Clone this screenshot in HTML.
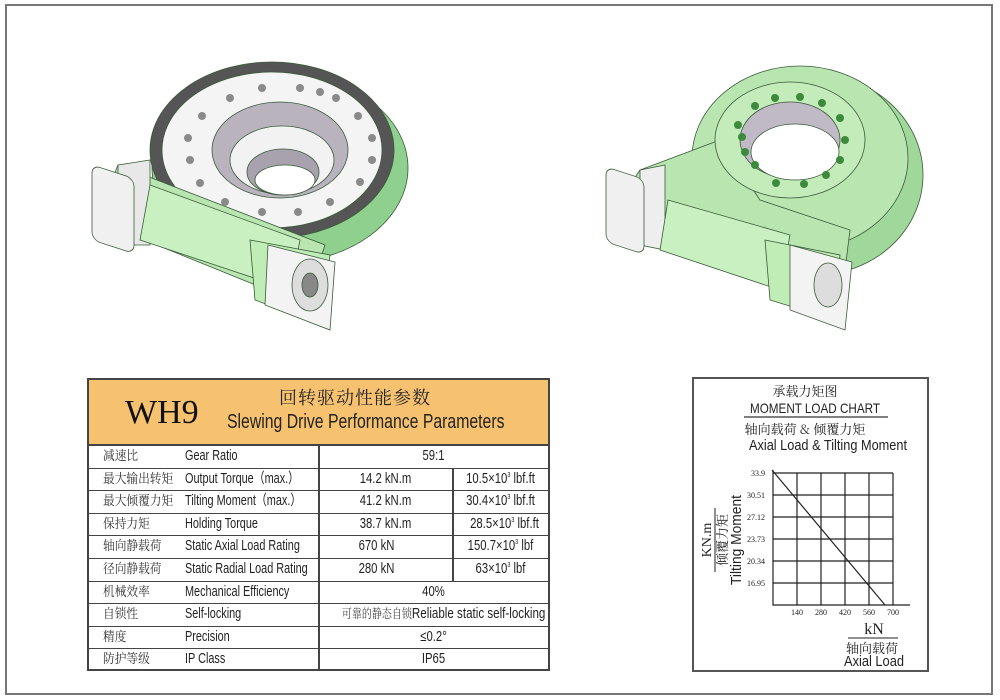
<!DOCTYPE html>
<html><head><meta charset="utf-8"><style>
*{margin:0;padding:0;box-sizing:border-box}
body{width:1000px;height:700px;background:#fff;position:relative;overflow:hidden;font-family:"Liberation Sans","Noto Sans CJK SC",sans-serif;color:#222}
.frame{position:absolute;left:5px;top:4px;width:988px;height:691px;border:2px solid #777}
.t{position:absolute;left:87px;top:378px;width:463px;height:293px;border:2px solid #444}
.hd{position:absolute;left:0;top:0;width:459px;height:66px;background:#f6c270;border-bottom:2px solid #444}
.row{position:absolute;left:0;width:459px;height:22.6px;border-bottom:1.5px solid #444;font-size:14.5px;line-height:21px}
.row>span{position:absolute;top:0;white-space:nowrap}
.row>span.cn{left:14px;top:-3px;font-family:"Noto Serif CJK SC","Noto Sans CJK SC",serif;font-size:13px;line-height:24px;color:#333;transform:scaleX(.9);transform-origin:left}
.en{left:96px;transform:scaleX(.75);transform-origin:left}
.vl{position:absolute;top:66px;bottom:0;width:1.5px;background:#444}
sup{font-size:7px;vertical-align:6px;line-height:0}
.c{position:absolute;text-align:center;white-space:nowrap;transform:scaleX(.78);transform-origin:center}
</style></head><body>
<div class="frame"></div>

<svg width="1000" height="370" style="position:absolute;left:0;top:0">
<g stroke="#3a5a3a" stroke-width="0.8">
<ellipse cx="280" cy="168" rx="128" ry="95" fill="#8fd08f"/>
<ellipse cx="272" cy="150" rx="122" ry="88" fill="#555"/>
<ellipse cx="272" cy="150" rx="110" ry="78" fill="#f4f4f4"/>
<ellipse cx="280" cy="150" rx="68" ry="48" fill="#b9b3be"/>
<ellipse cx="282" cy="160" rx="52" ry="34" fill="#f2f2f2"/>
<ellipse cx="283" cy="172" rx="36" ry="23" fill="#a8a2ae"/>
<ellipse cx="285" cy="180" rx="30" ry="15" fill="#fff"/>
<polygon points="118,165 325,245 305,305 95,220" fill="#b9e6b0"/>
<polygon points="118,165 150,160 150,245 118,245" fill="#e8e8e8"/>
<rect x="92" y="170" width="42" height="75" rx="8" fill="#f0f0f0" transform="skewY(18) translate(0,-35)"/>
<polygon points="150,185 300,240 290,290 140,240" fill="#c8f0c0"/>
<polygon points="250,240 330,255 322,325 255,300" fill="#c0ecb6"/>
<polygon points="268,245 335,262 330,330 265,305" fill="#f3f3f3"/>
<ellipse cx="310" cy="285" rx="18" ry="26" fill="#ddd"/>
<ellipse cx="310" cy="285" rx="8" ry="12" fill="#888"/>
</g>
<g fill="#8a8a8a">
<circle cx="262" cy="88" r="4"/><circle cx="300" cy="88" r="4"/><circle cx="320" cy="92" r="4"/><circle cx="336" cy="98" r="4"/>
<circle cx="230" cy="98" r="4"/><circle cx="202" cy="116" r="4"/><circle cx="188" cy="138" r="4"/><circle cx="190" cy="160" r="4"/>
<circle cx="200" cy="183" r="4"/><circle cx="225" cy="202" r="4"/><circle cx="262" cy="212" r="4"/><circle cx="298" cy="212" r="4"/>
<circle cx="330" cy="202" r="4"/><circle cx="360" cy="182" r="4"/><circle cx="372" cy="160" r="4"/><circle cx="372" cy="138" r="4"/><circle cx="358" cy="116" r="4"/>
</g>
<g stroke="#3a5a3a" stroke-width="0.8">
<ellipse cx="815" cy="175" rx="108" ry="100" fill="#9fd89a"/>
<ellipse cx="800" cy="158" rx="108" ry="92" fill="#b9e6b0"/>
<polygon points="640,170 720,140 760,200 850,230 845,270 610,215" fill="#b9e6b0"/>
<ellipse cx="790" cy="140" rx="75" ry="58" fill="#c4ecbb"/>
<ellipse cx="790" cy="140" rx="50" ry="38" fill="#c0b9c6"/>
<ellipse cx="795" cy="152" rx="44" ry="28" fill="#fff"/>
<polygon points="640,170 665,165 665,250 640,245" fill="#eee"/>
<rect x="606" y="170" width="38" height="75" rx="8" fill="#f0f0f0" transform="skewY(18) translate(0,-200)"/>
<polygon points="668,200 790,235 780,290 660,250" fill="#c8f0c0"/>
<polygon points="765,240 840,255 835,320 770,300" fill="#c0ecb6"/>
<polygon points="790,245 852,262 845,330 790,310" fill="#f3f3f3"/>
<ellipse cx="828" cy="285" rx="14" ry="22" fill="#ddd"/>
</g>
<g fill="#3d8a3d">
<circle cx="738" cy="125" r="4"/><circle cx="742" cy="137" r="4"/><circle cx="745" cy="152" r="4"/><circle cx="755" cy="165" r="4"/>
<circle cx="776" cy="183" r="4"/><circle cx="804" cy="184" r="4"/><circle cx="826" cy="175" r="4"/><circle cx="840" cy="160" r="4"/>
<circle cx="845" cy="140" r="4"/><circle cx="840" cy="118" r="4"/><circle cx="822" cy="103" r="4"/><circle cx="800" cy="97" r="4"/><circle cx="775" cy="98" r="4"/><circle cx="755" cy="106" r="4"/>
</g>
</svg>

<div class="t">
<div class="hd">
<div style="position:absolute;left:36px;top:14px;font-family:'Liberation Serif',serif;font-size:34px;color:#111">WH9</div>
<div style="position:absolute;left:190px;top:4px;font-family:'Noto Serif CJK SC',serif;font-size:18px;color:#222;letter-spacing:1px">回转驱动性能参数</div>
<div style="position:absolute;left:138px;top:31px;font-size:20px;color:#222;white-space:nowrap;transform:scaleX(.79);transform-origin:left">Slewing Drive Performance Parameters</div>
</div>
<div class="vl" style="left:229px"></div>
<div class="vl" style="left:363px;top:89px;bottom:87px"></div>
<div class="row" style="top:66px"><span class="cn">减速比</span><span class="en">Gear Ratio</span><span class="c" style="left:230px;width:229px">59:1</span></div>
<div class="row" style="top:88.6px"><span class="cn">最大输出转矩</span><span class="en">Output Torque（max.）</span><span class="c" style="left:230px;width:133px">14.2 kN.m</span><span class="c" style="left:364px;width:95px">10.5×10<sup>3</sup> lbf.ft</span></div>
<div class="row" style="top:111.2px"><span class="cn">最大倾覆力矩</span><span class="en">Tilting Moment（max.）</span><span class="c" style="left:230px;width:133px">41.2 kN.m</span><span class="c" style="left:364px;width:95px">30.4×10<sup>3</sup> lbf.ft</span></div>
<div class="row" style="top:133.8px"><span class="cn">保持力矩</span><span class="en">Holding Torque</span><span class="c" style="left:230px;width:133px">38.7 kN.m</span><span class="c" style="left:368px;width:95px">28.5×10<sup>3</sup> lbf.ft</span></div>
<div class="row" style="top:156.4px"><span class="cn">轴向静载荷</span><span class="en">Static Axial Load Rating</span><span class="c" style="left:230px;width:115px">670 kN</span><span class="c" style="left:364px;width:95px">150.7×10<sup>3</sup> lbf</span></div>
<div class="row" style="top:179px"><span class="cn">径向静载荷</span><span class="en">Static Radial Load Rating</span><span class="c" style="left:230px;width:115px">280 kN</span><span class="c" style="left:364px;width:95px">63×10<sup>3</sup> lbf</span></div>
<div class="row" style="top:201.6px"><span class="cn">机械效率</span><span class="en">Mechanical Efficiency</span><span class="c" style="left:230px;width:229px">40%</span></div>
<div class="row" style="top:224.2px"><span class="cn">自锁性</span><span class="en">Self-locking</span><span class="c" style="left:230px;width:229px;transform:scaleX(.8)"><span style="font-family:'Noto Serif CJK SC',serif;font-size:12.5px;line-height:14px;color:#444">可靠的静态自锁</span>Reliable static self-locking</span></div>
<div class="row" style="top:246.8px"><span class="cn">精度</span><span class="en">Precision</span><span class="c" style="left:230px;width:229px">≤0.2°</span></div>
<div class="row" style="top:269.4px;border-bottom:none"><span class="cn">防护等级</span><span class="en">IP Class</span><span class="c" style="left:230px;width:229px">IP65</span></div>
</div>

<div style="position:absolute;left:692px;top:377px;width:237px;height:295px;border:2px solid #555"></div>
<svg width="1000" height="700" style="position:absolute;left:0;top:0" font-family="Liberation Sans, sans-serif" fill="#222">
<text x="805" y="396" font-size="13" text-anchor="middle" font-family="Noto Serif CJK SC, serif">承载力矩图</text>
<text x="815" y="413" font-size="14" text-anchor="middle" textLength="130" lengthAdjust="spacingAndGlyphs">MOMENT LOAD CHART</text>
<line x1="744" y1="417" x2="888" y2="417" stroke="#333" stroke-width="1.2"/>
<text x="805" y="434" font-size="13" text-anchor="middle" font-family="Noto Serif CJK SC, serif">轴向载荷 &amp; 倾覆力矩</text>
<text x="828" y="450" font-size="15" text-anchor="middle" textLength="158" lengthAdjust="spacingAndGlyphs">Axial Load &amp; Tilting Moment</text>
<g stroke="#222" stroke-width="1.2" fill="none">
<path d="M773 473H893M773 495H893M773 517H893M773 539H893M773 561H893M773 583H893"/>
<path d="M797 473V605M821 473V605M845 473V605M869 473V605M893 473V605"/>
<path d="M773 470V605H910"/>
<line x1="772" y1="470" x2="885" y2="605"/>
</g>
<g font-size="8" text-anchor="end" font-family="Liberation Serif, serif">
<text x="765" y="476">33.9</text><text x="765" y="498">30.51</text><text x="765" y="520">27.12</text>
<text x="765" y="542">23.73</text><text x="765" y="564">20.34</text><text x="765" y="586">16.95</text>
</g>
<g font-size="8" text-anchor="middle" font-family="Liberation Serif, serif">
<text x="797" y="615">140</text><text x="821" y="615">280</text><text x="845" y="615">420</text><text x="869" y="615">560</text><text x="893" y="615">700</text>
</g>
<g transform="translate(713,540) rotate(-90)" text-anchor="middle">
<text x="0" y="-2" font-size="14" font-family="Liberation Serif, serif">KN.m</text>
<line x1="-32" y1="2" x2="32" y2="2" stroke="#222"/>
<text x="0" y="14" font-size="13" font-family="Noto Serif CJK SC, serif">倾覆力矩</text>
<text x="0" y="28" font-size="15" textLength="90" lengthAdjust="spacingAndGlyphs">Tilting Moment</text>
</g>
<text x="874" y="634" font-size="16" text-anchor="middle" font-family="Liberation Serif, serif">kN</text>
<line x1="848" y1="638" x2="898" y2="638" stroke="#222"/>
<text x="872" y="653" font-size="13" text-anchor="middle" font-family="Noto Serif CJK SC, serif">轴向载荷</text>
<text x="874" y="666" font-size="15" text-anchor="middle" textLength="60" lengthAdjust="spacingAndGlyphs">Axial Load</text>
</svg>
</body></html>
